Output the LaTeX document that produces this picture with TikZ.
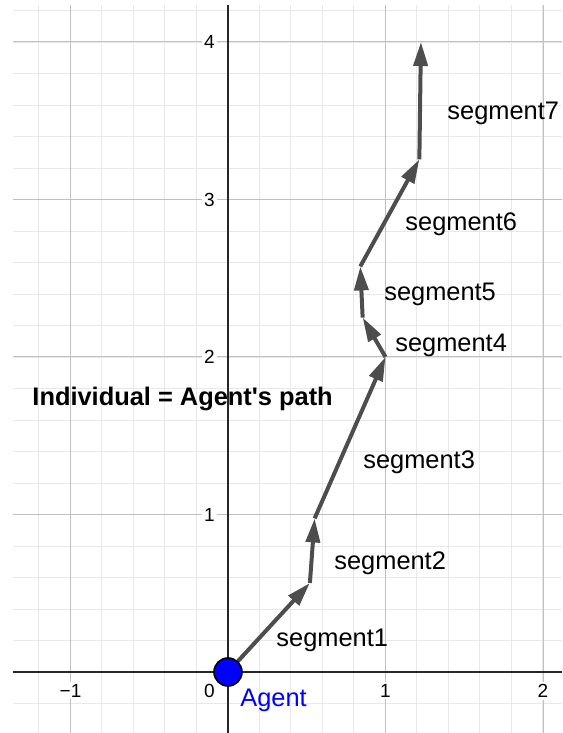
\documentclass[tikz,border=0pt]{standalone}
\usepackage{fontspec}
\setmainfont{Liberation Sans}
\usetikzlibrary{arrows.meta}
\definecolor{segGray}{RGB}{77,77,77}
\definecolor{minorGrid}{RGB}{232,232,232}
\definecolor{majorGrid}{RGB}{192,192,192}

\begin{document}
\begin{tikzpicture}[
    x=78.75pt, y=78.75pt,
    segment/.style={draw=segGray, line width=2pt, -{Triangle[length=12pt, width=7pt]}},
    seglabel/.style={anchor=base west, inner sep=0pt, font=\fontsize{12.7}{15}\selectfont},
    ticklabel/.style={fill=white, inner sep=1pt, font=\fontsize{9.5}{11}\selectfont},
    agentdot/.style={circle, fill=blue, draw=black, line width=0.8pt, minimum size=14pt, inner sep=0pt}
]
    \useasboundingbox (-1.4476,-0.3873) rectangle (2.1206,4.2667);

    % --- GRID AND AXES ---
    \draw[minorGrid, line width=0.5pt, step=0.2] (-1.365,-0.3873) grid (2.1206,4.235);
    \draw[majorGrid, line width=0.5pt, step=1] (-1.365,-0.3873) grid (2.1206,4.235);
    \draw[black!85, line width=0.8pt] (-1.365,0) -- (2.1206,0);
    \draw[black!85, line width=0.8pt] (0,-0.3873) -- (0,4.235);

    % tick labels
    \foreach \k in {1,...,4}
        \node[ticklabel, anchor=east] (ytick\k) at (-0.07,\k) {\k};
    \node[ticklabel, anchor=east] (origin) at (-0.07,-0.12) {0};
    \foreach \k/\t/\n in {-1/−1/m1, 1/1/1, 2/2/2}
        \node[ticklabel] (xtick\n) at (\k,-0.12) {\t};

    % --- AGENT'S PATH ---
    \coordinate (p0) at (0,0);
    \coordinate (p1) at (0.52,0.565);
    \coordinate (p2) at (0.55,0.975);
    \coordinate (p3) at (1.0,2.0);
    \coordinate (p4) at (0.855,2.25);
    \coordinate (p5) at (0.84,2.575);
    \coordinate (p6) at (1.215,3.255);
    \coordinate (p7) at (1.225,4.0);

    \foreach \a/\b in {p0/p1, p1/p2, p2/p3, p3/p4, p4/p5, p5/p6, p6/p7}
        \draw[segment] (\a) -- (\b);

    \node[agentdot] (agent) at (p0) {};

    % segment labels
    \node[seglabel] (seg1) at (0.305,0.159) {segment1};
    \node[seglabel] (seg2) at (0.673,0.648) {segment2};
    \node[seglabel] (seg3) at (0.857,1.295) {segment3};
    \node[seglabel] (seg4) at (1.060,2.038) {segment4};
    \node[seglabel] (seg5) at (0.990,2.356) {segment5};
    \node[seglabel] (seg6) at (1.124,2.806) {segment6};
    \node[seglabel] (seg7) at (1.391,3.511) {segment7};

    \node[seglabel, text=blue] (agentlabel) at (0.076,-0.222) {Agent};
    \node[seglabel, font=\fontsize{12.7}{15}\selectfont\bfseries] (title) at (-1.244,1.689) {Individual = Agent\textquotesingle s path};
\end{tikzpicture}
\end{document}
